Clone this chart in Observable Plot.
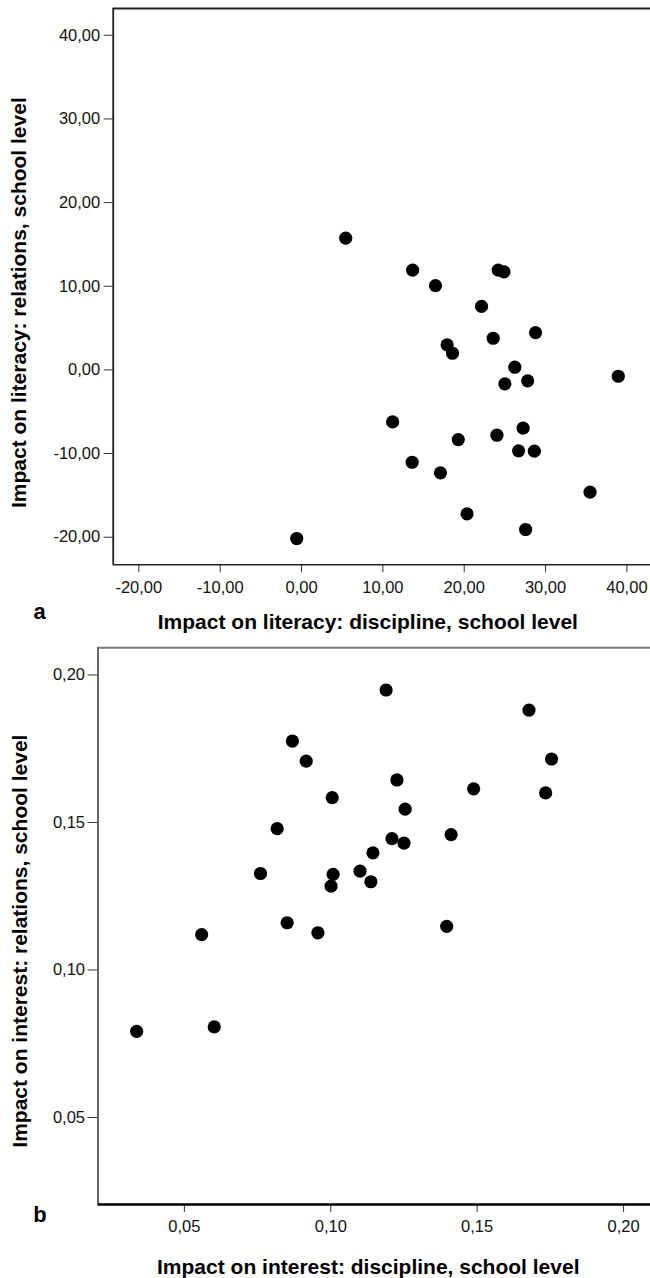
<!DOCTYPE html>
<html>
<head>
<meta charset="utf-8">
<script src="https://cdn.jsdelivr.net/npm/d3@7"></script>
<script src="https://cdn.jsdelivr.net/npm/@observablehq/plot@0.6"></script>
<style>
  html, body { margin: 0; padding: 0; background: #fff; }
  #chart svg { display: block; }
</style>
</head>
<body>
<div id="chart"></div>
<script>
// Panel a: Impact on literacy
const aDiscipline = [5.43, 13.66, 16.47, 24.18, 24.89, 22.13, 28.77, 23.56, 17.9, 18.56, 26.22, 25.0, 27.8, 38.94, 11.2, 27.24, 24.02, 19.27, 26.68, 28.62, 13.6, 17.08, 35.47, 20.35, 27.55, -0.59];
const aRelations  = [15.75, 11.92, 10.08, 11.92, 11.72, 7.59, 4.46, 3.78, 2.99, 1.99, 0.32, -1.67, -1.31, -0.76, -6.22, -6.97, -7.81, -8.33, -9.68, -9.72, -11.04, -12.31, -14.62, -17.21, -19.08, -20.16];
const aTicks = [-20, -10, 0, 10, 20, 30, 40];
const aDomainX = [-23.15, 42.9];
const aDomainY = [-23.3, 43.2];
const aTitleX = "Impact on literacy: discipline, school level";
const aTitleY = "Impact on literacy: relations, school level";
const aLetter = "a";

// Panel b: Impact on interest
const bDiscipline = [0.1189, 0.1677, 0.0869, 0.0916, 0.1754, 0.1226, 0.1488, 0.1734, 0.1005, 0.1254, 0.0817, 0.1411, 0.1209, 0.125, 0.1144, 0.11, 0.076, 0.1008, 0.1001, 0.1137, 0.0851, 0.1396, 0.0956, 0.0559, 0.0337, 0.0602];
const bRelations  = [0.1949, 0.1881, 0.1776, 0.1708, 0.1715, 0.1644, 0.1614, 0.16, 0.1584, 0.1545, 0.1479, 0.1459, 0.1445, 0.143, 0.1397, 0.1335, 0.1327, 0.1324, 0.1284, 0.1299, 0.116, 0.1148, 0.1126, 0.112, 0.0792, 0.0807];
const bTicks = [0.05, 0.10, 0.15, 0.20];
const bDomain = [0.0205, 0.2092];
const bTitleX = "Impact on interest: discipline, school level";
const bTitleY = "Impact on interest: relations, school level";
const bLetter = "b";

const fmt = d => d.toFixed(2).replace(".", ",");
const font = "'Liberation Sans', Arial, Helvetica, sans-serif";

function panel({xs, ys, ticksX, ticksY, domX, domY, titleX, titleY, letter, height, mt, ml, mb, ySize, yPad,
                xTitleDx, xTitleDy, yTitleDx, yTitleDy, letterDx, letterDy, topStroke, leftStroke, bottomStroke, bottomWidth}) {
  const data = xs.map((x, i) => ({x, y: ys[i]}));
  return Plot.plot({
    width: 650,
    height,
    marginTop: mt,
    marginLeft: ml,
    marginRight: 0,
    marginBottom: mb,
    style: {fontFamily: font, background: "#fff", color: "#111", overflow: "visible"},
    x: {domain: domX},
    y: {domain: domY},
    marks: [
      Plot.axisX({ticks: ticksX, tickFormat: fmt, tickSize: 8, tickPadding: 8, fontSize: 16.5, label: null, stroke: "#333"}),
      Plot.axisY({ticks: ticksY, tickFormat: fmt, tickSize: ySize, tickPadding: yPad, fontSize: 16.5, label: null, stroke: "#333"}),
      Plot.ruleY([domY[1]], {stroke: topStroke, strokeWidth: 2}),
      Plot.ruleX([domX[0]], {stroke: leftStroke, strokeWidth: 1.8}),
      Plot.ruleY([domY[0]], {stroke: bottomStroke, strokeWidth: bottomWidth}),
      Plot.dot(data, {x: "x", y: "y", r: 6.6, fill: "#000", stroke: null}),
      Plot.text([titleX], {text: d => d, frameAnchor: "bottom", textAnchor: "middle", dx: xTitleDx, dy: xTitleDy, fontSize: 21, fontWeight: "bold", fill: "#000"}),
      Plot.text([titleY], {text: d => d, frameAnchor: "left", textAnchor: "middle", rotate: -90, dx: yTitleDx, dy: yTitleDy, fontSize: 21, fontWeight: "bold", fill: "#000"}),
      Plot.text([letter], {text: d => d, frameAnchor: "bottom-left", textAnchor: "middle", dx: letterDx, dy: letterDy, fontSize: 22, fontWeight: "bold", fill: "#000"})
    ]
  });
}

const chart = document.getElementById("chart");
chart.append(panel({
  xs: aDiscipline, ys: aRelations, ticksX: aTicks, ticksY: aTicks, domX: aDomainX, domY: aDomainY,
  titleX: aTitleX, titleY: aTitleY, letter: aLetter,
  height: 640, mt: 8, ml: 112.7, mb: 75.7, ySize: 9, yPad: 4,
  xTitleDx: -14, xTitleDy: 64, yTitleDx: -93.7, yTitleDy: 16, letterDx: -73.7, letterDy: 54,
  topStroke: "#222", leftStroke: "#222", bottomStroke: "#222", bottomWidth: 1.6
}));
chart.append(panel({
  xs: bDiscipline, ys: bRelations, ticksX: bTicks, ticksY: bTicks, domX: bDomain, domY: bDomain,
  titleX: bTitleX, titleY: bTitleY, letter: bLetter,
  height: 638, mt: 7.3, ml: 97.5, mb: 74, ySize: 10, yPad: 3,
  xTitleDx: -6, xTitleDy: 69, yTitleDx: -78, yTitleDy: 15, letterDx: -58, letterDy: 17,
  topStroke: "#777", leftStroke: "#555", bottomStroke: "#000", bottomWidth: 2.6
}));
</script>
</body>
</html>
